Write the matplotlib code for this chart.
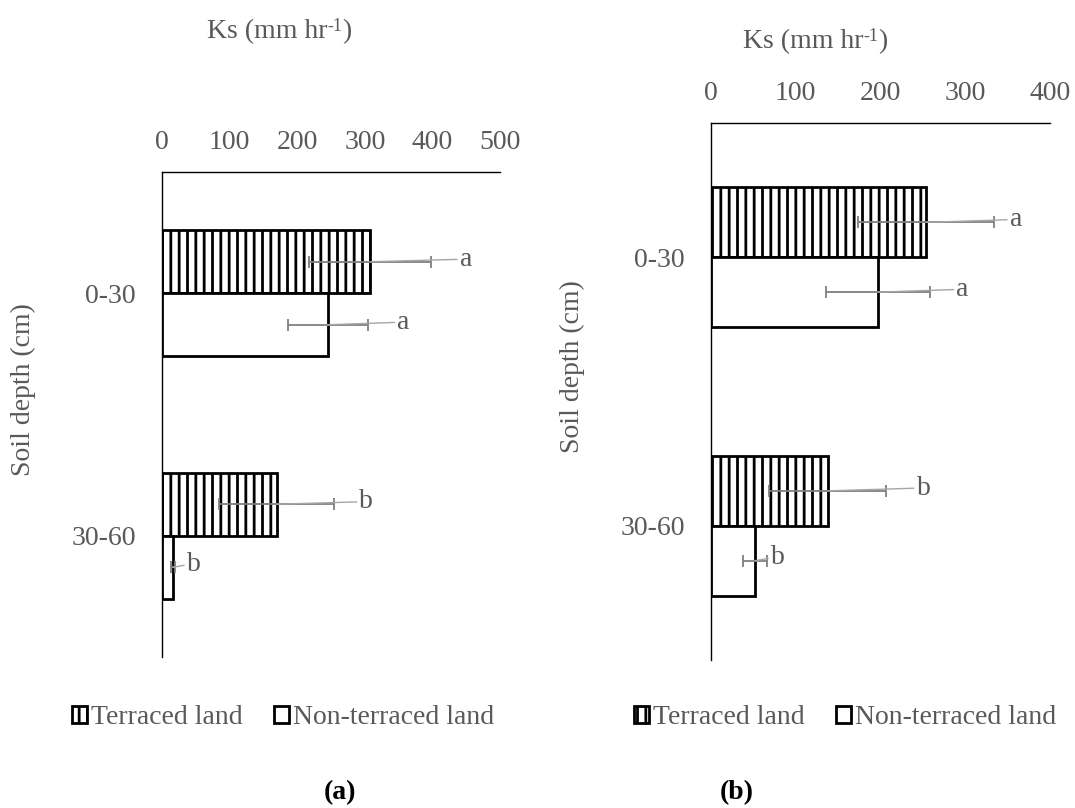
import matplotlib
matplotlib.use("Agg")
import matplotlib.pyplot as plt
import numpy as np

# ---- data -------------------------------------------------------------
depths = ["0-30", "30-60"]
series_names = ["Terraced land", "Non-terraced land"]

# panel (a)
ks_terraced_a = [308, 170]
err_terraced_a = [90, 85]
ks_nonterraced_a = [245, 16]
err_nonterraced_a = [59, 3]
letters_terraced_a = ["a", "b"]
letters_nonterraced_a = ["a", "b"]
xticks_a = [0, 100, 200, 300, 400, 500]

# panel (b)
ks_terraced_b = [254, 138]
err_terraced_b = [80, 69]
ks_nonterraced_b = [197, 52]
err_nonterraced_b = [61, 14]
letters_terraced_b = ["a", "b"]
letters_nonterraced_b = ["a", "b"]
xticks_b = [0, 100, 200, 300, 400]

# ---- style ------------------------------------------------------------
FONT = "Liberation Serif"
GREY = "#595959"
FS = 20
plt.rcParams["font.family"] = FONT
plt.rcParams["hatch.linewidth"] = 2.0

W, H = 1075, 808
fig = plt.figure(figsize=(W / 100, H / 100), dpi=100)


def fx(px):
    return px / W


def fy(py):
    return 1 - py / H


BAR_H = 0.26


def draw_panel(ax, terr, terr_err, non, non_err, let_t, let_n, xticks,
               off_t, off_n):
    y = np.arange(len(depths))
    xmax = xticks[-1]
    ax.set_xlim(0, xmax)
    ax.set_ylim(1.5, -0.5)

    bt = ax.barh(y - BAR_H / 2, terr, height=BAR_H, color="white",
                 edgecolor="black", hatch="||", linewidth=2.0,
                 label=series_names[0], zorder=2)
    bn = ax.barh(y + BAR_H / 2, non, height=BAR_H, color="white",
                 edgecolor="black", linewidth=2.0,
                 label=series_names[1], zorder=2)

    for vals, errs, yy in ((terr, terr_err, y - BAR_H / 2),
                           (non, non_err, y + BAR_H / 2)):
        ax.errorbar(vals, yy, xerr=errs, fmt="none", ecolor="#7f7f7f",
                    elinewidth=1.3, capsize=4.5, capthick=1.3, zorder=3)

    # significance letters with leader lines from the bar ends
    width_px = ax.get_position().width * W
    px_per_unit = width_px / xmax
    for vals, errs, lets, offs, yy in (
            (terr, terr_err, let_t, off_t, y - BAR_H / 2),
            (non, non_err, let_n, off_n, y + BAR_H / 2)):
        for v, e, t, o, yc in zip(vals, errs, lets, offs, yy):
            lx = v + e + o / px_per_unit
            ax.annotate(t, xy=(v, yc), xytext=(lx, yc - 0.01),
                        ha="center", va="center", fontsize=FS, color=GREY,
                        annotation_clip=False, zorder=4,
                        arrowprops=dict(arrowstyle="-", color="#a6a6a6",
                                        lw=1.0, shrinkA=0, shrinkB=0,
                                        relpos=(0, 0.5)))

    ax.xaxis.tick_top()
    ax.set_xticks(xticks)
    ax.set_xticklabels([str(t) for t in xticks])
    ax.tick_params(axis="x", length=0, pad=12, labelsize=FS,
                   labelcolor=GREY, top=True, labeltop=True,
                   bottom=False, labelbottom=False)
    ax.set_yticks(y)
    ax.set_yticklabels(depths)
    ax.tick_params(axis="y", length=0, pad=19, labelsize=FS,
                   labelcolor=GREY)
    for s in ("right", "bottom"):
        ax.spines[s].set_visible(False)
    for s in ("top", "left"):
        ax.spines[s].set_color("black")
        ax.spines[s].set_linewidth(1.0)
    return bt, bn


def ks_title(ax, x_left, y_base):
    t1 = ax.annotate("Ks (mm hr", xy=(fx(x_left), fy(y_base)),
                     xycoords="figure fraction", ha="left",
                     va="baseline", fontsize=FS, color=GREY,
                     annotation_clip=False)
    t2 = ax.annotate("-1", xy=(1, 0.5), xycoords=t1, ha="left",
                     va="baseline", fontsize=13, color=GREY,
                     annotation_clip=False)
    ax.annotate(")", xy=(1, 0), xycoords=(t2, t1), ha="left",
                va="bottom", fontsize=FS, color=GREY,
                annotation_clip=False)


ax_a = fig.add_axes([fx(162), fy(657), (500 - 162) / W, (657 - 172) / H])
ax_b = fig.add_axes([fx(711), fy(660), (1050 - 711) / W, (660 - 123) / H])

ha_a = draw_panel(ax_a, ks_terraced_a, err_terraced_a, ks_nonterraced_a,
                  err_nonterraced_a, letters_terraced_a,
                  letters_nonterraced_a, xticks_a,
                  off_t=[35, 32], off_n=[36, 19])
ha_b = draw_panel(ax_b, ks_terraced_b, err_terraced_b, ks_nonterraced_b,
                  err_nonterraced_b, letters_terraced_b,
                  letters_nonterraced_b, xticks_b,
                  off_t=[22, 37], off_n=[33, 11])

ks_title(ax_a, 207, 38)
ks_title(ax_b, 743, 48)

fig.text(fx(23), fy(390), "Soil depth (cm)", rotation=90, ha="center",
         va="center", fontsize=FS, color=GREY)
fig.text(fx(572), fy(367), "Soil depth (cm)", rotation=90, ha="center",
         va="center", fontsize=FS, color=GREY)

for handles, cx in ((ha_a, 283), (ha_b, 845)):
    fig.legend(handles, series_names, loc="center",
               bbox_to_anchor=(fx(cx), fy(718)), ncol=2, frameon=False,
               handlelength=0.55, handleheight=0.55, handletextpad=0.15,
               columnspacing=1.1, fontsize=FS, labelcolor=GREY,
               borderpad=0, borderaxespad=0)

fig.text(fx(340), fy(793), "(a)", ha="center", va="center", fontsize=FS,
         fontweight="bold", color="black")
fig.text(fx(737), fy(793), "(b)", ha="center", va="center", fontsize=FS,
         fontweight="bold", color="black")

fig.savefig("out.png", dpi=100)
